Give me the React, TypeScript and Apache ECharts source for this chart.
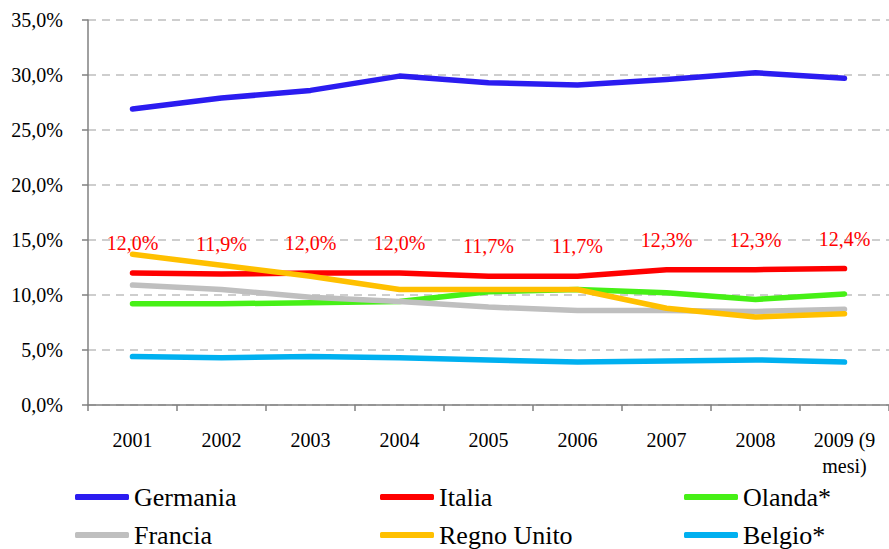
import React, { useEffect, useRef } from "react";
import * as echarts from "echarts";

const categories = ["2001", "2002", "2003", "2004", "2005", "2006", "2007", "2008", "2009 (9\nmesi)"];
const germania = [26.9, 27.9, 28.6, 29.9, 29.3, 29.1, 29.6, 30.2, 29.7];
const italia = [12.0, 11.9, 12.0, 12.0, 11.7, 11.7, 12.3, 12.3, 12.4];
const olanda = [9.2, 9.2, 9.3, 9.4, 10.3, 10.5, 10.2, 9.6, 10.1];
const francia = [10.9, 10.5, 9.8, 9.4, 8.9, 8.6, 8.6, 8.5, 8.7];
const regnoUnito = [13.7, 12.7, 11.7, 10.5, 10.5, 10.5, 8.8, 8.0, 8.3];
const belgio = [4.4, 4.3, 4.4, 4.3, 4.1, 3.9, 4.0, 4.1, 3.9];
const yTicks = { min: 0, max: 35, interval: 5 };

const seriesDefs = [
  { name: "Germania", data: germania, color: "#2b1cf0" },
  { name: "Italia", data: italia, color: "#ff0000" },
  { name: "Olanda*", data: olanda, color: "#46f016" },
  { name: "Francia", data: francia, color: "#bfbfbf" },
  { name: "Regno Unito", data: regnoUnito, color: "#ffc000" },
  { name: "Belgio*", data: belgio, color: "#00b0f0" },
];

const FONT = "Liberation Serif";
const fmt = (v: number) => Number(v).toFixed(1).replace(".", ",") + "%";

export default function App() {
  const ref = useRef<HTMLDivElement>(null);
  useEffect(() => {
    if (!ref.current) return;
    const chart = echarts.init(ref.current, null, { renderer: "svg" });
    const legendPos = [
      { left: 75, top: 484 },
      { left: 380, top: 484 },
      { left: 684, top: 484 },
      { left: 75, top: 522 },
      { left: 380, top: 522 },
      { left: 684, top: 522 },
    ];
    chart.setOption({
      animation: false,
      backgroundColor: "#ffffff",
      grid: { left: 88, right: 0, top: 20, bottom: 144, containLabel: false },
      xAxis: {
        type: "category",
        data: categories,
        boundaryGap: true,
        axisLine: { lineStyle: { color: "#808080", width: 1.5 } },
        axisTick: { show: true, length: 6, inside: false, lineStyle: { color: "#808080", width: 1.5 } },
        axisLabel: {
          color: "#000",
          fontFamily: FONT,
          fontSize: 20,
          lineHeight: 26,
          margin: 22,
          interval: 0,
        },
      },
      yAxis: {
        type: "value",
        min: yTicks.min,
        max: yTicks.max,
        interval: yTicks.interval,
        axisLine: { show: true, lineStyle: { color: "#808080", width: 1.5 } },
        axisTick: { show: true, length: 6, lineStyle: { color: "#808080", width: 1.5 } },
        axisLabel: {
          color: "#000",
          fontFamily: FONT,
          fontSize: 20,
          margin: 25,
          formatter: (v: number) => fmt(v),
        },
        splitLine: { show: true, lineStyle: { color: "#bfbfbf", width: 1.5, type: [8, 6] } },
      },
      legend: seriesDefs.map((s, i) => ({
        data: [s.name],
        left: legendPos[i].left,
        top: legendPos[i].top,
        orient: "horizontal",
        icon: "roundRect",
        itemWidth: 54,
        itemHeight: 6,
        itemGap: 0,
        padding: 0,
        itemStyle: { color: s.color, opacity: 1 },
        textStyle: { color: "#000", fontFamily: FONT, fontSize: 26, lineHeight: 26 },
      })),
      series: seriesDefs.map((s) => ({
        name: s.name,
        type: "line",
        data: s.data,
        symbol: "circle",
        symbolSize: 0.01,
        showSymbol: s.name === "Italia",
        itemStyle: { color: s.color },
        color: s.color,
        lineStyle: { color: s.color, width: 5.5, cap: "round", join: "round" },
        label: {
          show: s.name === "Italia",
          position: "top",
          distance: 20,
          color: "#ff0000",
          fontFamily: FONT,
          fontSize: 20,
          formatter: (p: any) => fmt(p.value),
        },
      })),
    });
    return () => chart.dispose();
  }, []);
  return (
    <div
      ref={ref}
      style={{ position: "absolute", left: 0, top: 0, width: 889, height: 549 }}
    />
  );
}
